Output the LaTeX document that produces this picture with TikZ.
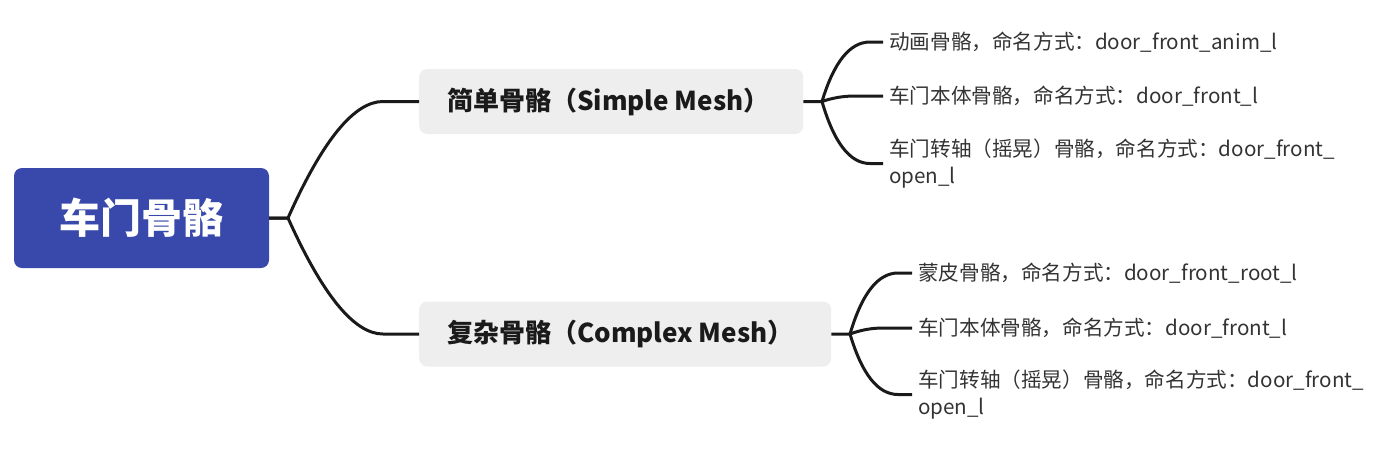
\documentclass[tikz,border=0pt]{standalone}
\usepackage{fontspec}
\setmainfont{Noto Sans CJK SC}
\definecolor{rootblue}{HTML}{3949AB}
\definecolor{branchgray}{HTML}{EEEEEE}
\definecolor{textdark}{HTML}{1A1A1A}
\definecolor{leafgray}{HTML}{333333}
\definecolor{linecol}{HTML}{1A1A1A}
\begin{document}
\begin{tikzpicture}[x=1pt,y=-1pt,
  rootbox/.style={fill=rootblue, rounded corners=8pt, minimum width=255pt, minimum height=100pt,
    text=white, font=\fontsize{41}{48}\selectfont\bfseries, inner sep=0pt},
  branchbox/.style={fill=branchgray, rounded corners=8pt, minimum height=65pt, inner xsep=28pt,
    inner ysep=0pt, align=flush left, font=\fontsize{26}{30}\selectfont\bfseries, text=textdark, anchor=west},
  leaf/.style={anchor=west, inner xsep=6pt, inner ysep=0pt, align=flush left,
    font=\fontsize{20.6}{27}\selectfont, text=leafgray},
  link/.style={draw=linecol, line width=3pt, line join=round}]
\useasboundingbox (0,0) rectangle (1390,456);

\node[rootbox] (root) at (141.5,218) {车门骨骼};
\node[branchbox, text width=328pt] (b1) at (419,101.5) {简单骨骼（Simple Mesh）};
\node[branchbox, text width=356pt] (b2) at (419,334) {复杂骨骼（Complex Mesh）};

\node[leaf] (l11) at (883,42) {动画骨骼，命名方式：door\_front\_anim\_l};
\node[leaf] (l12) at (883,96) {车门本体骨骼，命名方式：door\_front\_l};
\node[leaf] (l13) at (883,163.5) {车门转轴（摇晃）骨骼，命名方式：door\_front\_\\open\_l};
\node[leaf] (l21) at (912,273) {蒙皮骨骼，命名方式：door\_front\_root\_l};
\node[leaf] (l22) at (912,328) {车门本体骨骼，命名方式：door\_front\_l};
\node[leaf] (l23) at (912,394.5) {车门转轴（摇晃）骨骼，命名方式：door\_front\_\\open\_l};

\coordinate (f0) at (288,218);
\coordinate (f1) at (822,101.5);
\coordinate (f2) at (850,334);

\draw[link] (root.east) -- (f0) .. controls (322.7,140) and (354.3,101.5) .. (383,101.5) -- (b1.west);
\draw[link] (root.east) -- (f0) .. controls (322.7,295.3) and (354.3,334) .. (383,334) -- (b2.west);

\draw[link] (b1.east) -- (f1) .. controls (834,61.8) and (850,42) .. (870,42) -- (l11.west);
\draw[link] (f1) .. controls (832.7,97.8) and (843.7,96) .. (855,96) -- (l12.west);
\draw[link] (f1) .. controls (834,142.8) and (850,163.5) .. (870,163.5) -- (l13.west);

\draw[link] (b2.east) -- (f2) .. controls (862,293.3) and (878,273) .. (898,273) -- (l21.west);
\draw[link] (f2) .. controls (860.7,330) and (871.7,328) .. (883,328) -- (l22.west);
\draw[link] (f2) .. controls (862,374.3) and (878,394.5) .. (898,394.5) -- (l23.west);
\end{tikzpicture}
\end{document}
